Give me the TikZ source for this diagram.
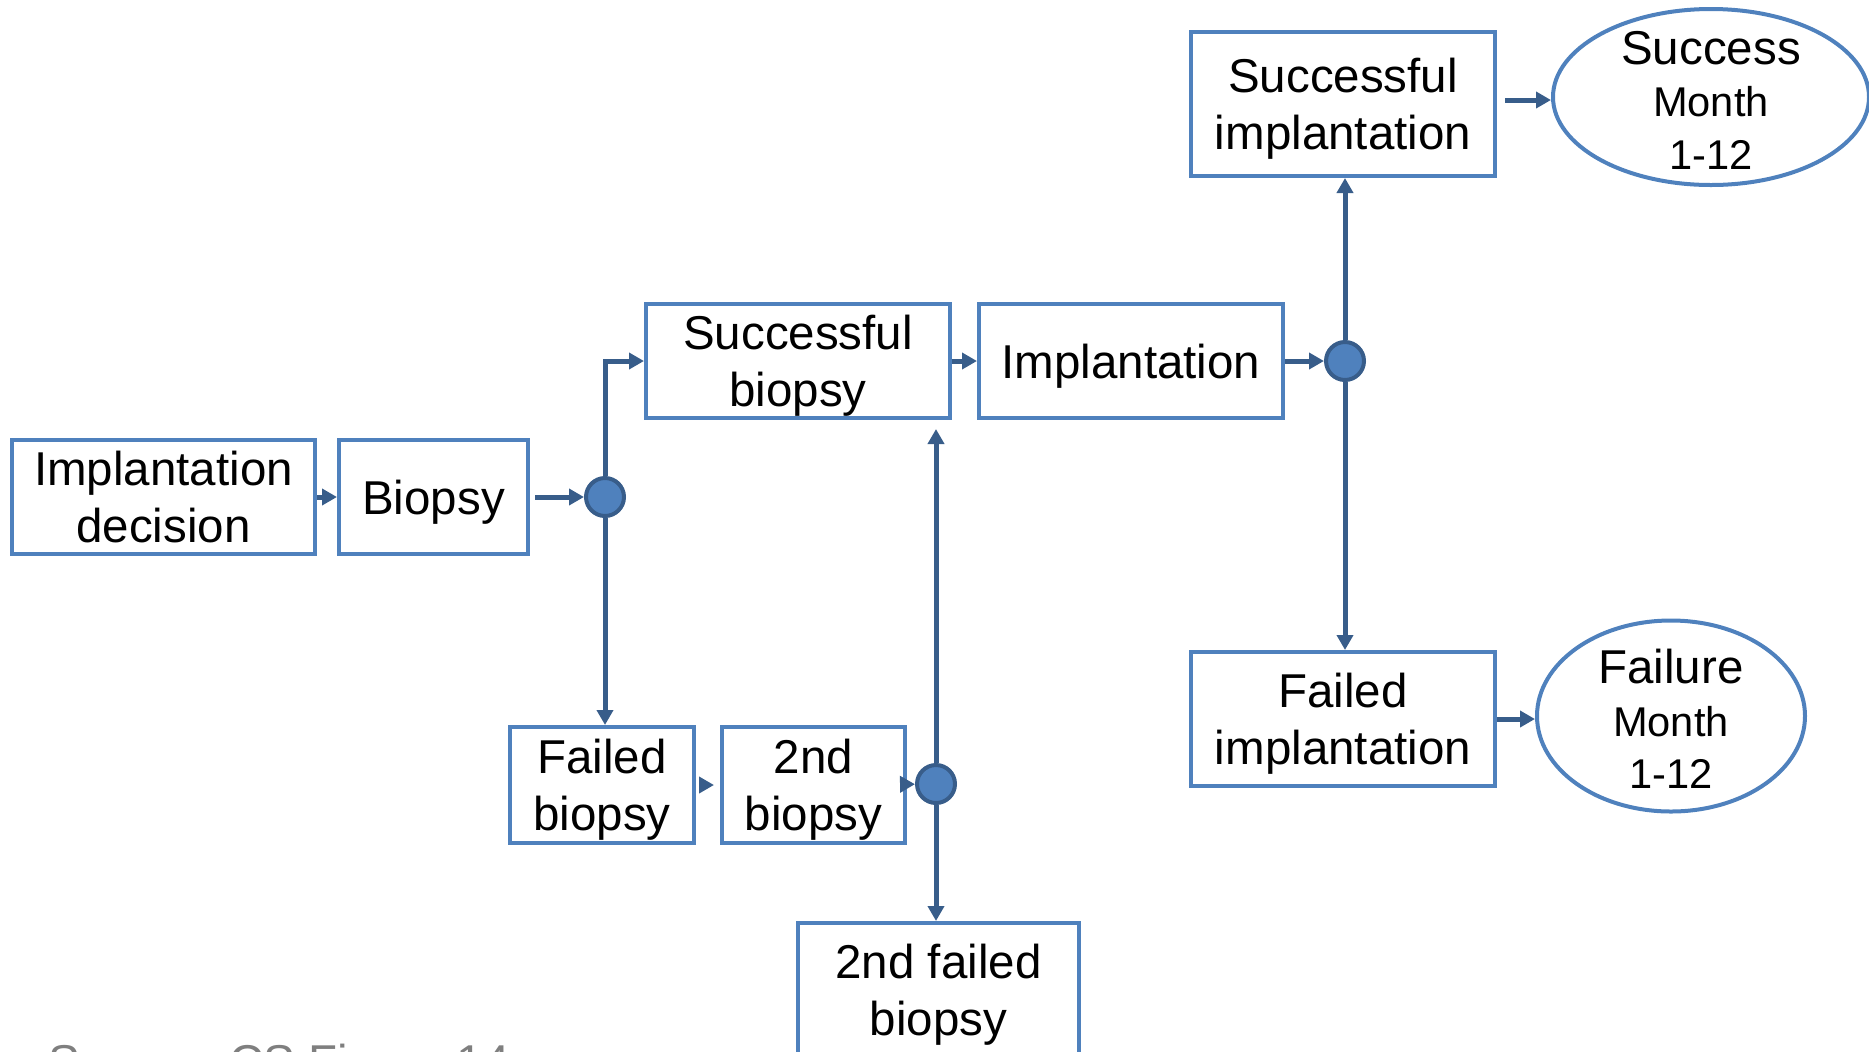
\documentclass[tikz,border=0pt]{standalone}
\usepackage{fontspec}
\setmainfont{Liberation Sans}
\usetikzlibrary{shapes.geometric,arrows.meta}
\definecolor{boxblue}{HTML}{4F81BD}
\definecolor{linkblue}{HTML}{385D8A}
\definecolor{srcgray}{HTML}{7F7F7F}
\tikzset{
  stepbox/.style={draw=boxblue, line width=2pt, rectangle, align=center, inner sep=0pt, text depth=0pt, minimum height=57pt, font=\fontsize{23.75}{28.5}\selectfont},
  endoval/.style={draw=boxblue, line width=2pt, ellipse, inner sep=0pt},
  ovaltext/.style={align=center, inner sep=0pt, text depth=0pt, font=\fontsize{20.8}{26.25}\selectfont},
  junction/.style={circle, draw=linkblue, fill=boxblue, line width=2pt, minimum size=19pt, inner sep=0pt},
  link/.style={draw=linkblue, line width=2.5pt, -{Triangle[length=7.5pt,width=8pt]}},
}
\begin{document}
\begin{tikzpicture}[x=0.5pt,y=-0.5pt]
\useasboundingbox (0,0) rectangle (1869,1051);
% main line
\node[stepbox, minimum width=151.5pt] (decision) at (163.5,497) {Implantation\\decision};
\node[stepbox, minimum width=94.5pt] (biopsy) at (433.5,497) {Biopsy};
\node[junction] (fork1) at (605,497) {};
\node[stepbox, minimum width=152pt] (goodbiopsy) at (798,361) {Successful\\biopsy};
\node[stepbox, minimum width=152pt] (implant) at (1131,361) {Implantation};
\node[junction] (fork2) at (1345,361) {};
% outcomes
\node[stepbox, minimum width=152pt, minimum height=72pt] (goodimplant) at (1343,104) {Successful\\implantation};
\node[stepbox, minimum width=152pt, minimum height=67pt] (badimplant) at (1343,719) {Failed\\implantation};
\node[endoval, minimum width=158pt, minimum height=88pt] (success) at (1711,97) {};
\node[ovaltext] (success-txt) at (1711,100) {{\fontsize{23.75}{26.25}\selectfont Success}\\Month\\1-12};
\node[endoval, minimum width=134pt, minimum height=95.5pt] (failure) at (1671,716) {};
\node[ovaltext] (failure-txt) at (1671,719) {{\fontsize{23.75}{26.25}\selectfont Failure}\\Month\\1-12};
% second biopsy
\node[stepbox, minimum width=92pt, minimum height=58pt] (badbiopsy) at (602,785) {Failed\\biopsy};
\node[stepbox, minimum width=91.5pt, minimum height=58pt] (biopsy2) at (813.5,785) {2nd\\biopsy};
\node[junction] (fork3) at (936,784) {};
\node[stepbox, minimum width=140.5pt, minimum height=67pt] (badbiopsy2) at (938.5,990) {2nd failed\\biopsy};
\node[anchor=base west, inner sep=0pt, text=srcgray, font=\fontsize{23.75}{28.5}\selectfont] (source) at (48,1078) {Source: CS Figure 14};
% connectors
\draw[link] (decision) -- (biopsy);
\draw[link] ([xshift=2.5pt]biopsy.east) -- (fork1);
\draw[link] (fork1) |- (goodbiopsy);
\draw[link] (fork1) -- (fork1 |- badbiopsy.north);
\draw[link] ([xshift=2pt]badbiopsy.east) -- ([xshift=-3pt]biopsy2.west);
\draw[link] (biopsy2) -- (fork3);
\draw[link] (fork3) -- ([yshift=-4.5pt]goodbiopsy.south -| fork3);
\draw[link] (fork3) -- (fork3 |- badbiopsy2.north);
\draw[link] (goodbiopsy) -- (implant);
\draw[link] (implant) -- (fork2);
\draw[link] (fork2) -- (fork2 |- goodimplant.south);
\draw[link] (fork2) -- (fork2 |- badimplant.north);
\draw[link] ([xshift=4pt,yshift=2pt]goodimplant.east) -- ([yshift=2pt]goodimplant.east -| success.west);
\draw[link] (badimplant.east) -- (badimplant.east -| failure.west);
\end{tikzpicture}
\end{document}
